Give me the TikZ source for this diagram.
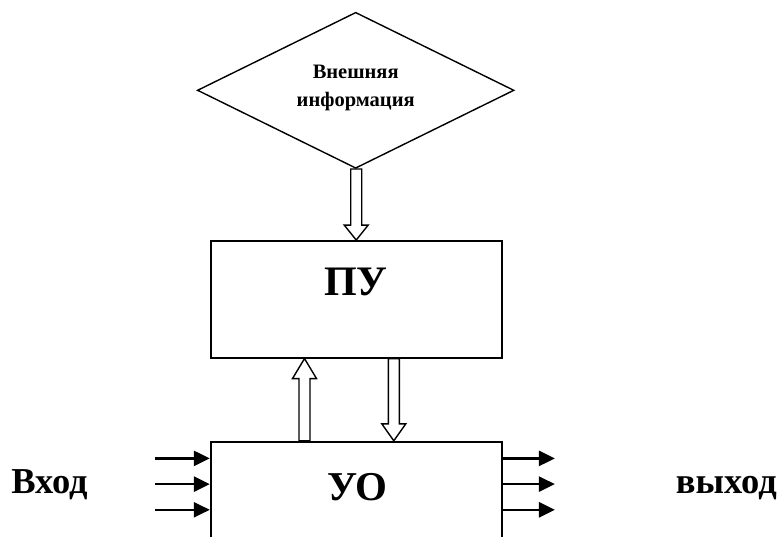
\documentclass[tikz,border=0pt]{standalone}
\usepackage{fontspec}
\setmainfont{Liberation Serif}
\usetikzlibrary{shapes.geometric,arrows.meta,calc}
\tikzset{
  box/.style={draw,line width=1.8pt,rectangle,minimum width=291pt,inner sep=0pt},
  dia/.style={draw,line width=1.4pt,diamond,aspect=2,minimum width=316.7pt,minimum height=156pt,inner sep=0pt},
  hollow/.style={draw,line width=1.4pt,fill=white,line join=miter},
  sig/.style={line width=2.6pt,-{Triangle[length=16pt,width=15pt]}},
  big/.style={font=\bfseries\fontsize{42}{48}\selectfont,inner sep=0pt},
  side/.style={font=\bfseries\fontsize{36.5}{40}\selectfont,inner sep=0pt},
  small/.style={font=\bfseries\fontsize{20.5}{27.4}\selectfont,inner sep=0pt,align=center}
}
% #1 tail, #2 tip, #3 head length
\newcommand\hollowarrow[3]{%
  \draw[hollow] let \p1=#1, \p2=#2, \n1={sign(\y1-\y2)} in
    (\x2-5.5pt,\y1) -- (\x2-5.5pt,\y2+\n1*#3) -- (\x2-12pt,\y2+\n1*#3) -- (\x2,\y2)
    -- (\x2+12pt,\y2+\n1*#3) -- (\x2+5.5pt,\y2+\n1*#3) -- (\x2+5.5pt,\y1) -- cycle;}
\begin{document}
\begin{tikzpicture}[x=1pt,y=-1pt]
\useasboundingbox (0,0) rectangle (781,536);
\clip (0,0) rectangle (781,536);
\node[dia] (di) at (355.7,90.3) {};
\node[small] (ditext) at (355.7,88) {Внешняя\\информация};
\node[box,minimum height=116.7pt] (pu) at (356.2,299.3) {};
\node[big,anchor=base] (putext) at (356,295) {ПУ};
\node[box,minimum height=120pt] (uo) at (356.2,501.7) {};
\node[big,anchor=base,font=\bfseries\fontsize{41}{48}\selectfont] (uotext) at (357.5,500) {УО};
\hollowarrow{(di.south)}{(pu.north)}{15pt}
\hollowarrow{($(uo.north)+(-51.7,0)$)}{($(pu.south)+(-51.7,0)$)}{20pt}
\hollowarrow{($(pu.south)+(37.6,0)$)}{($(uo.north)+(37.6,0)$)}{17pt}
\foreach \i/\dy in {1/17.6,2/43.3,3/69} {
  \coordinate (in\i) at ($(uo.north west)+(-54.7,\dy)$);
  \coordinate (out\i) at ($(uo.north east)+(52.3,\dy)$);
  \draw[sig] (in\i) -- ($(uo.north west)+(0,\dy)$);
  \draw[sig] ($(uo.north east)+(0,\dy)$) -- (out\i);
}
\node[side,anchor=base] (vhod) at (49.5,493.3) {Вход};
\node[side,anchor=base] (vyhod) at (726.3,493.3) {выход};
\end{tikzpicture}
\end{document}
